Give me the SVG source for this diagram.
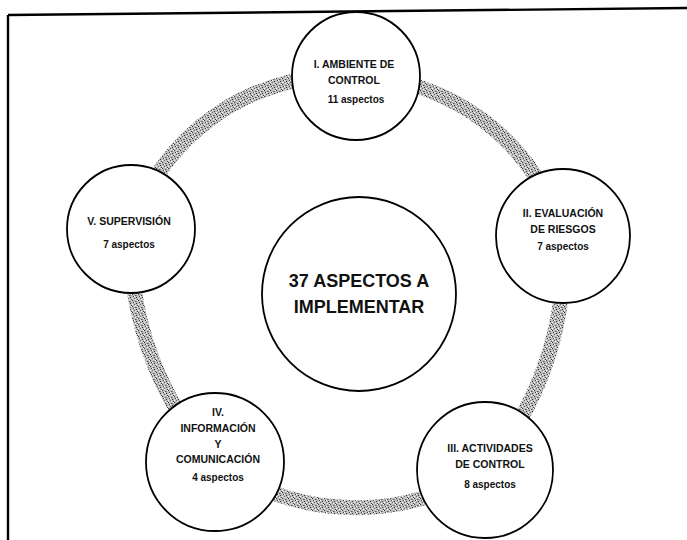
<svg xmlns="http://www.w3.org/2000/svg" width="687" height="540" viewBox="0 0 687 540">
  <defs>
    <pattern id="dither" width="6" height="6" patternUnits="userSpaceOnUse">
      <rect width="6" height="6" fill="#bdbdbd"/>
      <rect x="0" y="0" width="1" height="1" fill="#333"/>
      <rect x="3" y="1" width="1" height="1" fill="#555"/>
      <rect x="1" y="2" width="1" height="1" fill="#444"/>
      <rect x="4" y="3" width="1" height="1" fill="#333"/>
      <rect x="2" y="4" width="1" height="1" fill="#666"/>
      <rect x="5" y="5" width="1" height="1" fill="#444"/>
      <rect x="4" y="1" width="1" height="1" fill="#888"/>
      <rect x="5" y="0" width="1" height="1" fill="#fff"/>
      <rect x="2" y="2" width="1" height="1" fill="#fff"/>
      <rect x="0" y="4" width="1" height="1" fill="#fff"/>
      <rect x="3" y="5" width="1" height="1" fill="#eee"/>
    </pattern>
    <style>
      .node { fill: #ffffff; stroke: #000000; stroke-width: 1.8; }
      .lbl { font-family: "Liberation Sans", Arial, sans-serif; font-size: 10.5px; font-weight: bold; fill: #111; text-anchor: middle; }
      .sub { font-family: "Liberation Sans", Arial, sans-serif; font-size: 10px; font-weight: bold; fill: #111; text-anchor: middle; }
      .big { font-family: "Liberation Sans", Arial, sans-serif; font-size: 18px; font-weight: bold; fill: #111; text-anchor: middle; }
      .ring { fill: none; stroke: url(#dither); stroke-width: 15; }
      .frame { stroke: #000; stroke-width: 2.4; fill: none; }
    </style>
  </defs>
  <rect width="687" height="540" fill="#ffffff"/>
  <g id="frame">
    <line class="frame" x1="8" y1="15" x2="687" y2="8"/>
    <line class="frame" x1="8" y1="15" x2="8" y2="540"/>
  </g>
  <g id="connectors">
    <path class="ring" d="M 356 76 A 222 222 0 0 1 563 236"/>
    <path class="ring" d="M 563 236 A 330 330 0 0 1 485 470"/>
    <path class="ring" d="M 485 470 A 240 240 0 0 1 215 462"/>
    <path class="ring" d="M 215 462 A 330 330 0 0 1 131 229"/>
    <path class="ring" d="M 131 229 A 222 222 0 0 1 356 76"/>
  </g>
  <g id="center">
    <circle class="node" cx="359" cy="294" r="97"/>
    <text class="big" x="359" y="287">37 ASPECTOS A</text>
    <text class="big" x="359" y="313">IMPLEMENTAR</text>
  </g>
  <g id="node-1">
    <circle class="node" cx="356" cy="76" r="64"/>
    <text class="lbl" x="354" y="68">I. AMBIENTE DE</text>
    <text class="lbl" x="354" y="84">CONTROL</text>
    <text class="sub" x="356" y="103">11 aspectos</text>
  </g>
  <g id="node-2">
    <circle class="node" cx="563" cy="236" r="67"/>
    <text class="lbl" x="563" y="217">II. EVALUACIÓN</text>
    <text class="lbl" x="563" y="233">DE RIESGOS</text>
    <text class="sub" x="563" y="250">7 aspectos</text>
  </g>
  <g id="node-3">
    <circle class="node" cx="485" cy="470" r="68"/>
    <text class="lbl" x="490" y="452">III. ACTIVIDADES</text>
    <text class="lbl" x="490" y="468">DE CONTROL</text>
    <text class="sub" x="490" y="488">8 aspectos</text>
  </g>
  <g id="node-4">
    <circle class="node" cx="215" cy="462" r="69"/>
    <text class="lbl" x="218" y="416">IV.</text>
    <text class="lbl" x="218" y="432">INFORMACIÓN</text>
    <text class="lbl" x="218" y="448">Y</text>
    <text class="lbl" x="218" y="463">COMUNICACIÓN</text>
    <text class="sub" x="218" y="481">4 aspectos</text>
  </g>
  <g id="node-5">
    <circle class="node" cx="131" cy="229" r="64"/>
    <text class="lbl" x="129" y="225">V. SUPERVISIÓN</text>
    <text class="sub" x="129" y="248">7 aspectos</text>
  </g>
</svg>
